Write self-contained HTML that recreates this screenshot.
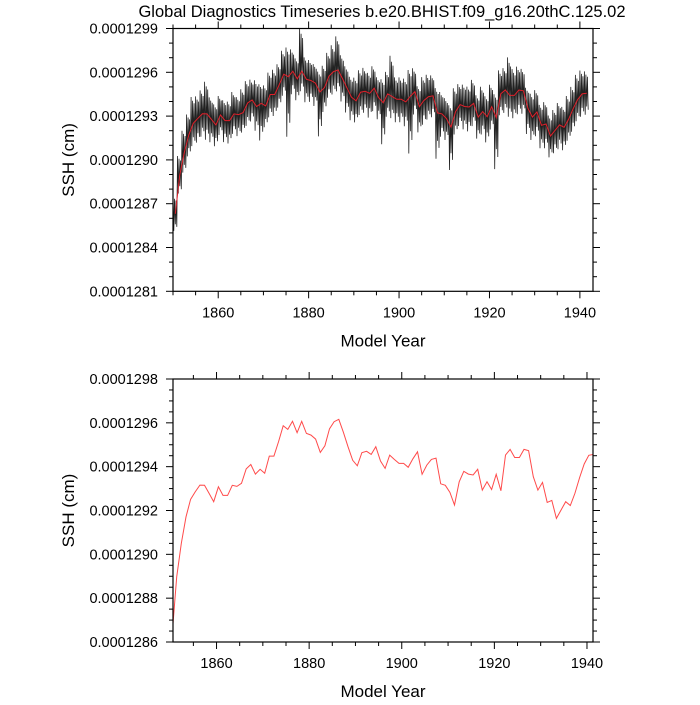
<!DOCTYPE html>
<html><head><meta charset="utf-8"><style>
body{margin:0;background:#fff;}
svg text{font-family:"Liberation Sans",sans-serif;fill:#000;}
</style></head><body>
<svg id="chart" width="700" height="700" viewBox="0 0 700 700" xmlns="http://www.w3.org/2000/svg">
<text x="382" y="17" font-size="16.5" text-anchor="middle">Global Diagnostics Timeseries b.e20.BHIST.f09_g16.20thC.125.02</text>
<g id="top"></g>
<g id="bot"></g>
</svg>
<script>
// annual mean SSH, units of 1e-7 cm, years 1850..1941
const years = [];
for (let y = 1850; y <= 1941; y++) years.push(y);
const annualSSH = [1286.31,1288.97,1290.5,1291.71,1292.51,1292.85,1293.16,1293.15,1292.78,1292.4,
1293.08,1292.69,1292.69,1293.15,1293.1,1293.24,1293.9,1294.1,1293.66,1293.88,
1293.7,1294.48,1294.48,1295.15,1295.87,1295.7,1296.07,1295.55,1296.07,1295.52,
1295.44,1295.26,1294.65,1294.95,1295.73,1296.05,1296.16,1295.57,1294.91,1294.29,
1294.04,1294.64,1294.7,1294.56,1294.91,1294.26,1293.92,1294.53,1294.33,1294.15,
1294.15,1293.97,1294.36,1294.68,1293.65,1294.07,1294.33,1294.39,1293.22,1293.15,
1292.83,1292.25,1293.31,1293.79,1293.66,1293.62,1293.88,1292.93,1293.31,1292.96,
1293.65,1292.9,1294.53,1294.79,1294.42,1294.42,1294.79,1294.73,1293.54,1292.93,
1293.28,1292.37,1292.46,1291.64,1292.02,1292.4,1292.23,1292.78,1293.5,1294.12,
1294.52,1294.56];
// monthly spread above / below annual mean (envelope of black monthly series)
const hiDev = [1.2,1.3,1.5,1.4,1.8,1.5,1.6,2.2,1.5,1.4,
1.3,1.4,1.3,1.5,1.2,1.6,1.5,1.4,1.8,1.3,
1.4,1.5,1.7,1.4,1.6,2.0,1.5,1.4,3.0,1.5,
1.4,1.3,1.4,1.5,1.6,1.8,2.3,1.6,1.5,1.4,
1.6,1.5,1.6,1.4,1.5,1.4,1.6,1.5,2.8,1.5,
1.5,1.6,1.8,1.6,1.4,1.6,1.5,1.4,1.7,1.5,
1.4,1.5,1.6,1.4,1.5,1.4,1.6,1.5,1.7,1.4,
1.5,1.6,1.6,1.5,2.6,1.8,1.6,1.5,1.4,1.6,
1.5,1.4,1.5,1.4,1.4,1.5,1.4,1.6,1.5,1.7,
1.6,1.5];
const loDev = [1.2,1.3,1.4,1.5,1.6,1.7,1.6,1.8,1.6,1.5,
1.4,1.5,1.6,1.4,1.5,1.4,1.6,1.5,1.7,2.6,
1.5,1.6,1.5,1.6,1.5,4.2,1.6,1.5,1.4,1.6,
1.5,1.6,3.1,1.7,1.5,1.6,1.5,1.6,1.7,1.6,
1.5,1.6,1.5,1.7,1.6,1.5,2.9,1.6,1.5,1.6,
1.6,1.7,4.0,1.6,1.8,1.7,1.6,1.5,3.2,1.6,
1.5,3.0,1.6,1.5,1.6,1.7,1.6,1.5,1.6,1.8,
1.6,3.6,1.5,1.6,1.5,1.6,1.7,1.6,1.8,1.6,
1.7,1.6,1.7,1.5,1.6,1.7,1.6,1.5,1.6,1.5,
1.6,1.5];
const topYTicks = ["0.0001281","0.0001284","0.0001287","0.0001290","0.0001293","0.0001296","0.0001299"];
const botYTicks = ["0.0001286","0.0001288","0.0001290","0.0001292","0.0001294","0.0001296","0.0001298"];
const xTicks = [1860,1880,1900,1920,1940];

const NS = "http://www.w3.org/2000/svg";
function mk(parent, tag, attrs) {
  const e = document.createElementNS(NS, tag);
  for (const k in attrs) e.setAttribute(k, attrs[k]);
  parent.appendChild(e);
  return e;
}

function panel(g, cfg) {
  const L = 173, R = 593, T = cfg.top, B = cfg.bottom;
  const xs = v => L + (v - cfg.x0) / (cfg.x1 - cfg.x0) * (R - L);
  const ys = v => B - (v - cfg.y0) / (cfg.y1 - cfg.y0) * (B - T);
  const cid = "clip" + cfg.id;
  const cp = mk(g, "clipPath", {id: cid});
  mk(cp, "rect", {x: L, y: T, width: R - L, height: B - T});
  const plot = mk(g, "g", {"clip-path": "url(#" + cid + ")"});
  
  
  if (cfg.black) {
    let pts = [];
    const amp = [1, 0.7, 0.9, 0.6, 0.8, 0.75];
    years.forEach((yr, i) => {
      for (let k = 0; k < 6; k++) {
        const v = (k % 2 === 0) ? annualSSH[i] + hiDev[i] * amp[k] * (k === 0 ? 1 : 0.95) : annualSSH[i] - loDev[i] * amp[k] * (k === 1 ? 1.4 : 1.0);
        pts.push(xs(yr + k / 6).toFixed(1) + "," + ys(v).toFixed(1));
      }
    });
    const pl = mk(plot, "polyline", {points: pts.join(" "), fill: "none", stroke: "#222", "stroke-width": 0.8});
    
    
  }
  const rp = years.map((yr, i) => xs(yr + cfg.off).toFixed(1) + "," + ys(annualSSH[i]).toFixed(1)).join(" ");
  const red = mk(plot, "polyline", {points: rp, fill: "none", stroke: cfg.black ? "#e0202a" : "#ff4a4a", "stroke-width": 1});
  
  

  const ax = mk(g, "g", {stroke: "#000", "stroke-width": 1});
  
  
  for (let yr = 1850; yr <= 1945; yr += 5) {
    const x = xs(yr); if (x < L - 0.5 || x > R + 0.5) continue;
    const len = yr % 20 === 0 ? 7 : 4;
    mk(ax, "line", {x1: x, y1: B, x2: x, y2: B + len});
    mk(ax, "line", {x1: x, y1: T, x2: x, y2: T - len});
  }
  for (let v = cfg.y0; v <= cfg.y1 + 1e-6; v += cfg.minor) {
    const y = ys(v);
    const major = Math.abs(((v - cfg.y0) / cfg.major) - Math.round((v - cfg.y0) / cfg.major)) < 1e-6;
    const len = major ? 7 : 4;
    mk(ax, "line", {x1: L, y1: y, x2: L - len, y2: y});
    mk(ax, "line", {x1: R, y1: y, x2: R + len, y2: y});
  }
  const fr = mk(g, "rect", {x: L, y: T, width: R - L, height: B - T, fill: "none", stroke: "#000", "stroke-width": 1.2});
  
  
  xTicks.forEach(t => {
    const tx = mk(g, "text", {x: xs(t), y: B + 26, "font-size": 14.5, "text-anchor": "middle"});
    tx.textContent = t;
    
    
  });
  cfg.labels.forEach((lab, i) => {
    const tx = mk(g, "text", {x: 158, y: ys(cfg.y0 + i * cfg.major) + 5, "font-size": 14.5, "text-anchor": "end"});
    tx.textContent = lab;
    
    
  });
  const xt = mk(g, "text", {x: 383, y: B + 55, "font-size": 17, "text-anchor": "middle"});
  xt.textContent = "Model Year";
  
  
  const cy = (T + B) / 2;
  const yt = mk(g, "text", {x: 74, y: cy, "font-size": 17, "text-anchor": "middle", transform: "rotate(-90 74 " + cy + ")"});
  yt.textContent = "SSH (cm)";
  
  
}

panel(document.getElementById("top"), {id: "t", top: 28.5, bottom: 291.3, x0: 1850, x1: 1942.9, off: 0.5,
  y0: 1281, y1: 1299, major: 3, minor: 1, labels: topYTicks, black: true});
panel(document.getElementById("bot"), {id: "b", top: 379, bottom: 642, x0: 1850.6, x1: 1941.3, off: 0.4,
  y0: 1286, y1: 1298, major: 2, minor: 0.5, labels: botYTicks, black: false});
</script>
</body></html>
